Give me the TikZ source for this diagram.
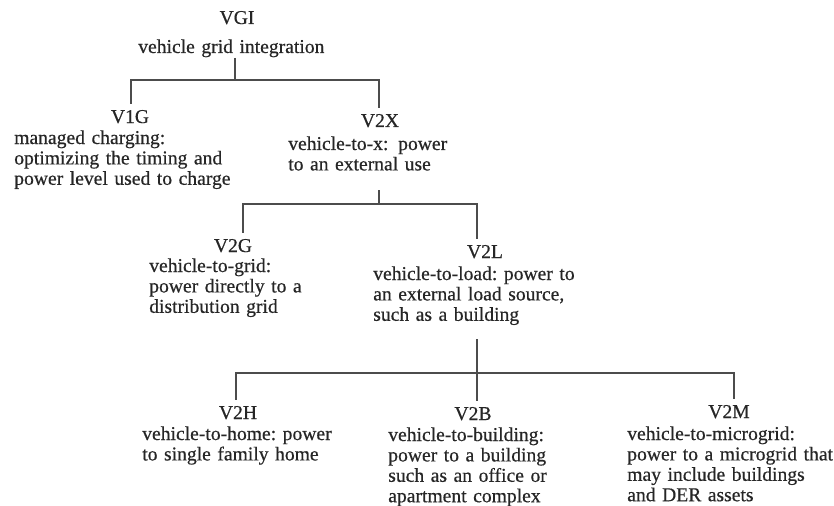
\documentclass[tikz,border=0pt]{standalone}
\usepackage{fontspec}
\setmainfont{Liberation Serif}
\newfontfamily\txtfont{Liberation Serif}[FakeBold=0.5]
\frenchspacing
\begin{document}
\begin{tikzpicture}[x=0.75pt,y=-0.75pt,
  txt/.style={text=black!85, font=\txtfont\fontsize{14.7}{15.3}\selectfont\frenchspacing, inner sep=0pt},
  ttl/.style={txt, anchor=base, inner ysep=4.5pt},
  desc/.style={txt, anchor=base west, align=left, text width=200pt},
  conn/.style={draw=black!70, line width=1.5pt}]
\path[use as bounding box, fill=white] (0,0) rectangle (834,506);
% nodes
\node[ttl] (vgi) at (237,24) {VGI};
\node[desc] (vgid) at (138,53) {vehicle grid integration};
\node[ttl] (v1g) at (130,123) {V1G};
\node[desc] (v1gd) at (14,144) {managed charging:\\optimizing the timing and\\power level used to charge};
\node[ttl] (v2x) at (380,127) {V2X};
\node[desc] (v2xd) at (288,150) {vehicle-to-x: \,power\\to an external use};
\node[ttl] (v2g) at (233,252) {V2G};
\node[desc] (v2gd) at (149,272) {vehicle-to-grid:\\power directly to a\\distribution grid};
\node[ttl] (v2l) at (485,258) {V2L};
\node[desc] (v2ld) at (373,280) {vehicle-to-load: power to\\an external load source,\\such as a building};
\node[ttl] (v2h) at (238,419) {V2H};
\node[desc] (v2hd) at (142,440) {vehicle-to-home: power\\to single family home};
\node[ttl] (v2b) at (473,420) {V2B};
\node[desc] (v2bd) at (388,441) {vehicle-to-building:\\power to a building\\such as an office or\\apartment complex};
\node[ttl] (v2m) at (729,418) {V2M};
\node[desc] (v2md) at (627,440) {vehicle-to-microgrid:\\power to a microgrid that\\may include buildings\\and DER assets};
% connectors
\coordinate (vgio) at (235,58);
\coordinate (b1l) at (131,80);
\coordinate (b1r) at (379,80);
\draw[conn] (vgio) -- (vgio |- b1l);
\draw[conn] (b1l |- v1g.north) -- (b1l) -- (b1r) -- (b1r |- v2x.north);
\coordinate (v2xo) at (379,190);
\coordinate (b2l) at (243,204);
\coordinate (b2r) at (477,204);
\draw[conn] (v2xo) -- (v2xo |- b2l);
\draw[conn] (b2l |- v2g.north) -- (b2l) -- (b2r) -- (b2r |- v2l.north);
\coordinate (v2lo) at (477,339);
\coordinate (b3l) at (236,373);
\coordinate (b3m) at (477,373);
\coordinate (b3r) at (734,373);
\draw[conn] (v2lo) -- (b3m |- v2b.north);
\draw[conn] (b3l |- v2h.north) -- (b3l) -- (b3r) -- (b3r |- v2m.north);
\end{tikzpicture}
\end{document}
